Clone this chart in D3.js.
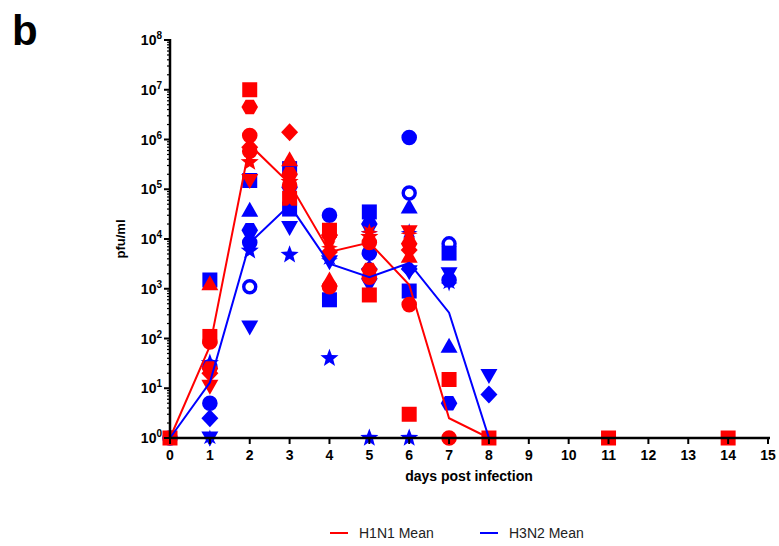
<!DOCTYPE html>
<html>
<head>
<meta charset="utf-8">
<script src="https://cdn.jsdelivr.net/npm/d3@7"></script>
<style>
  body { margin: 0; background: #fff; }
  svg text { font-family: "Liberation Sans", Arial, sans-serif; }
</style>
</head>
<body>
<div id="chart"></div>
<script>
/* ── Data ─────────────────────────────────────────────── */
const xTicks = d3.range(0, 16);
const yTicks = [1, 10, 100, 1e3, 1e4, 1e5, 1e6, 1e7, 1e8];

// individual animals: [day, pfu/ml, marker]
const h1n1Points = [
  [0, 1, 'square'],
  [1, 110, 'square'], [1, 85, 'circle'], [1, 1260, 'triangle'], [1, 25, 'hexagon'],
  [1, 20, 'diamond'], [1, 11, 'triangleDown'],
  [2, 1.0e7, 'square'], [2, 4.5e6, 'hexagon'], [2, 1.2e6, 'circle'], [2, 7e5, 'diamond'],
  [2, 5.8e5, 'circle'], [2, 3.5e5, 'star'], [2, 1.5e5, 'triangleDown'],
  [3, 1.4e6, 'diamond'], [3, 3.9e5, 'triangle'], [3, 2e5, 'hexagon'], [3, 1.4e5, 'star'],
  [3, 1.2e5, 'circle'], [3, 6.6e4, 'square'],
  [4, 1.5e4, 'square'], [4, 1.2e4, 'hexagon'], [4, 9e3, 'triangleDown'], [4, 7e3, 'asterisk'],
  [4, 5.5e3, 'diamond'], [4, 1.5e3, 'triangle'], [4, 1.1e3, 'circle'],
  [5, 1.4e4, 'asterisk'], [5, 1.1e4, 'star'], [5, 8.5e3, 'circle'], [5, 2.4e3, 'hexagon'],
  [5, 1.7e3, 'circle'], [5, 750, 'square'],
  [6, 1.4e4, 'triangleDown'], [6, 1.3e4, 'asterisk'], [6, 8e3, 'hexagon'], [6, 6e3, 'diamond'],
  [6, 4.5e3, 'triangle'], [6, 480, 'circle'], [6, 3, 'square'],
  [7, 15, 'square'], [7, 1, 'circle'],
  [8, 1, 'square'], [11, 1, 'square'], [14, 1, 'square']
];

const h3n2Points = [
  [0, 1, 'circle'],
  [1, 1500, 'square'], [1, 32, 'star'], [1, 27, 'circle'], [1, 5, 'circle'],
  [1, 2.5, 'diamond'], [1, 1, 'triangleDown'], [1, 1, 'asterisk'],
  [2, 1.5e5, 'square'], [2, 3.8e4, 'triangle'], [2, 1.5e4, 'hexagon'], [2, 8500, 'circle'],
  [2, 5800, 'star'], [2, 1100, 'openCircle'], [2, 170, 'triangleDown'],
  [3, 2.6e5, 'square'], [3, 1.1e5, 'hexagon'], [3, 4e4, 'square'], [3, 1.7e4, 'triangleDown'],
  [3, 4800, 'star'],
  [4, 3e4, 'circle'], [4, 4000, 'asterisk'], [4, 3500, 'triangleDown'], [4, 600, 'square'],
  [4, 40, 'star'],
  [5, 3.5e4, 'square'], [5, 2e4, 'hexagon'], [5, 1.4e4, 'asterisk'], [5, 5200, 'circle'],
  [5, 2500, 'diamond'], [5, 1200, 'triangleDown'], [5, 1, 'star'],
  [6, 1.1e6, 'circle'], [6, 8.4e4, 'openCircle'], [6, 4.4e4, 'triangle'], [6, 1.4e4, 'asterisk'],
  [6, 2500, 'diamond'], [6, 2200, 'triangleDown'], [6, 900, 'square'], [6, 1, 'star'],
  [7, 8000, 'openCircle'], [7, 5200, 'square'], [7, 2000, 'triangleDown'], [7, 1500, 'circle'],
  [7, 1300, 'asterisk'], [7, 70, 'triangle'], [7, 5, 'hexagon'],
  [8, 18, 'triangleDown'], [8, 7.5, 'diamond']
];

// group means: [day, pfu/ml]
const h1n1Mean = [[0, 1], [1, 70], [2, 7.8e5], [3, 1.3e5], [4, 5500], [5, 8500],
  [6, 1200], [7, 2.5], [8, 1], [11, 1], [14, 1]];
const h3n2Mean = [[0, 1], [1, 13], [2, 8300], [3, 4.8e4], [4, 3200], [5, 1700],
  [6, 3300], [7, 330], [8, 1], [11, 1], [14, 1]];

const RED = '#ff0000';
const BLUE = '#0000ff';

/* ── Layout ───────────────────────────────────────────── */
const W = 779, H = 546;
const plot = { left: 170, right: 768, top: 40, bottom: 438 };

const svg = d3.select('#chart').append('svg')
  .attr('width', W).attr('height', H);

const x = d3.scaleLinear().domain([0, 15]).range([plot.left, plot.right]);
const y = d3.scaleLog().domain([1, 1e8]).range([plot.bottom, plot.top]);

/* ── Marker shapes ────────────────────────────────────── */
function polyPath(pts) {
  return 'M' + pts.map(p => p[0].toFixed(2) + ',' + p[1].toFixed(2)).join('L') + 'Z';
}
function starPath(n, ro, ri) {
  const pts = [];
  for (let i = 0; i < n * 2; i++) {
    const a = -Math.PI / 2 + i * Math.PI / n;
    const r = i % 2 ? ri : ro;
    pts.push([r * Math.cos(a), r * Math.sin(a)]);
  }
  return polyPath(pts);
}
function markerPath(kind) {
  const r = 7.8;
  switch (kind) {
    case 'square': return polyPath([[-7.5, -7.5], [7.5, -7.5], [7.5, 7.5], [-7.5, 7.5]]);
    case 'triangle': return polyPath([[0, -8.5], [8.5, 6.5], [-8.5, 6.5]]);
    case 'triangleDown': return polyPath([[0, 8.5], [8.5, -6.5], [-8.5, -6.5]]);
    case 'diamond': return polyPath([[0, -9], [8.5, 0], [0, 9], [-8.5, 0]]);
    case 'hexagon': return polyPath(d3.range(6).map(i => {
      const a = i * Math.PI / 3;
      return [8.3 * Math.cos(a), 8.3 * Math.sin(a)];
    }));
    case 'star': return starPath(5, 9.5, 4);
    case 'asterisk': return starPath(8, 8.5, 4);
    default: // circle / openCircle
      return 'M' + r + ',0A' + r + ',' + r + ' 0 1,1 ' + (-r) + ',0A' + r + ',' + r + ' 0 1,1 ' + r + ',0Z';
  }
}

function drawPoints(data, color) {
  svg.append('g').selectAll('path')
    .data(data)
    .join('path')
    .attr('transform', d => 'translate(' + x(d[0]) + ',' + y(d[1]) + ')')
    .attr('d', d => d[2] === 'openCircle'
      ? 'M6,0A6,6 0 1,1 -6,0A6,6 0 1,1 6,0Z' : markerPath(d[2]))
    .attr('fill', d => d[2] === 'openCircle' ? '#fff' : color)
    .attr('stroke', d => d[2] === 'openCircle' ? color : 'none')
    .attr('stroke-width', d => d[2] === 'openCircle' ? 3.4 : 0);
}

/* ── Axes ─────────────────────────────────────────────── */
const axisG = svg.append('g');

// y axis with log minor ticks
const minor = [];
for (let e = 0; e < 8; e++) {
  for (let m = 2; m <= 9; m++) minor.push(m * Math.pow(10, e));
}
axisG.selectAll('line.minor').data(minor).join('line')
  .attr('x1', plot.left - 3).attr('x2', plot.left)
  .attr('y1', d => y(d)).attr('y2', d => y(d))
  .attr('stroke', '#000').attr('stroke-width', 1.2);
axisG.selectAll('line.major').data(yTicks).join('line')
  .attr('x1', plot.left - 6).attr('x2', plot.left)
  .attr('y1', d => y(d)).attr('y2', d => y(d))
  .attr('stroke', '#000').attr('stroke-width', 2);

const yLab = axisG.selectAll('text.ylab').data(yTicks).join('text')
  .attr('x', plot.left - 8).attr('y', d => y(d) + 5)
  .attr('text-anchor', 'end')
  .style('font-weight', 'bold').style('font-size', '14px');
yLab.append('tspan').text('10');
yLab.append('tspan').attr('dy', -6).style('font-size', '10px')
  .text(d => Math.round(Math.log10(d)));

// x axis ticks + labels
axisG.selectAll('line.xt').data(xTicks).join('line')
  .attr('x1', d => x(d)).attr('x2', d => x(d))
  .attr('y1', plot.bottom).attr('y2', plot.bottom + 6)
  .attr('stroke', '#000').attr('stroke-width', 2);
axisG.selectAll('text.xl').data(xTicks).join('text')
  .attr('x', d => x(d)).attr('y', plot.bottom + 22)
  .attr('text-anchor', 'middle')
  .style('font-weight', 'bold').style('font-size', '14px')
  .text(d => d);

/* ── Marks ────────────────────────────────────────────── */
drawPoints(h3n2Points, BLUE);
drawPoints(h1n1Points, RED);

const line = d3.line().x(d => x(d[0])).y(d => y(d[1]));
svg.append('path').datum(h1n1Mean).attr('d', line)
  .attr('fill', 'none').attr('stroke', RED).attr('stroke-width', 2);
svg.append('path').datum(h3n2Mean).attr('d', line)
  .attr('fill', 'none').attr('stroke', BLUE).attr('stroke-width', 2);

// axis lines on top
axisG.raise();
svg.append('line')
  .attr('x1', plot.left).attr('x2', plot.left)
  .attr('y1', plot.top - 1).attr('y2', plot.bottom + 1)
  .attr('stroke', '#000').attr('stroke-width', 2.5);
svg.append('line')
  .attr('x1', plot.left - 1).attr('x2', plot.right + 2)
  .attr('y1', plot.bottom).attr('y2', plot.bottom)
  .attr('stroke', '#000').attr('stroke-width', 2.5);

/* ── Labels ───────────────────────────────────────────── */
svg.append('text')
  .attr('transform', 'translate(125,' + ((plot.top + plot.bottom) / 2) + ') rotate(-90)')
  .attr('text-anchor', 'middle')
  .style('font-weight', 'bold').style('font-size', '13px')
  .text('pfu/ml');

svg.append('text')
  .attr('x', 469).attr('y', 481)
  .attr('text-anchor', 'middle')
  .style('font-weight', 'bold').style('font-size', '14px')
  .text('days post infection');

svg.append('text')
  .attr('x', 12).attr('y', 45)
  .style('font-weight', 'bold').style('font-size', '42px')
  .text('b');

/* ── Legend ───────────────────────────────────────────── */
const legend = [
  { label: 'H1N1 Mean', color: RED, x: 330 },
  { label: 'H3N2 Mean', color: BLUE, x: 480 }
];
const lg = svg.append('g').selectAll('g').data(legend).join('g')
  .attr('transform', d => 'translate(' + d.x + ',533)');
lg.append('line').attr('x1', 0).attr('x2', 18)
  .attr('stroke', d => d.color).attr('stroke-width', 2);
lg.append('text').attr('x', 29).attr('y', 5)
  .style('font-size', '14px').style('fill', '#222').text(d => d.label);
</script>
</body>
</html>
